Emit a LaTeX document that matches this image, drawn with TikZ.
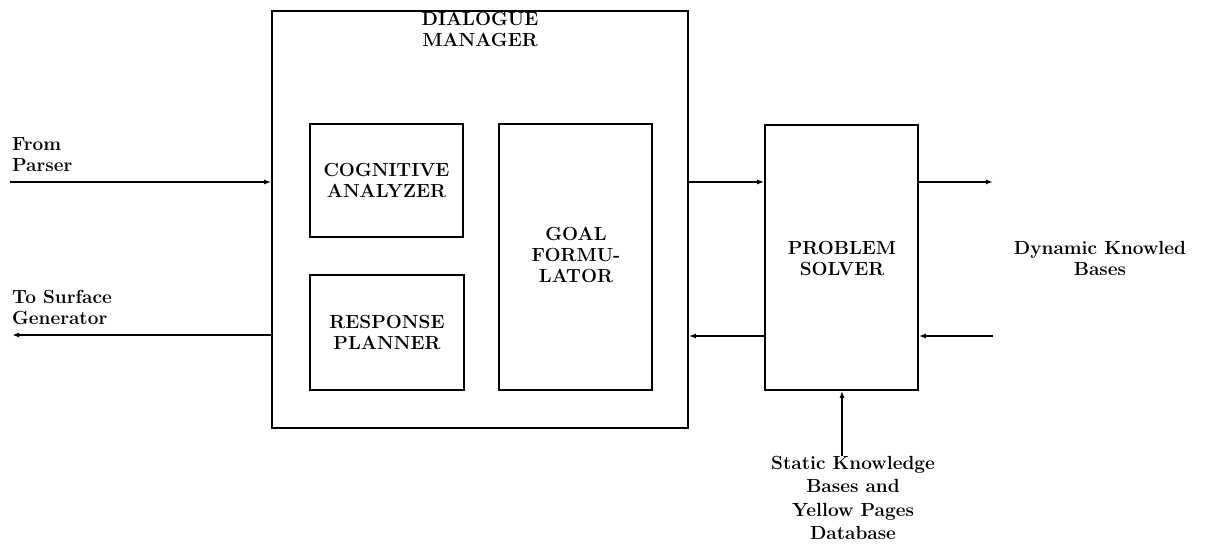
\documentclass[tikz,border=0pt]{standalone}
\usetikzlibrary{arrows.meta}
\begin{document}
\begin{tikzpicture}[x=1pt,y=-1pt,
  box/.style={draw,line width=1.8pt,inner sep=0pt},
  lbl/.style={font=\fontsize{19}{21}\selectfont\bfseries,align=center,inner sep=0pt},
  lbll/.style={font=\fontsize{19}{21}\selectfont\bfseries,align=left,inner sep=0pt,anchor=west},
  arr/.style={line width=1.4pt,-{Latex[length=7pt,width=5pt]}}]
\useasboundingbox (0,0) rectangle (1205,548);
% boxes
\node[box,minimum width=416pt,minimum height=417pt] (dm) at (480,219.5) {};
\node[lbl] (dmt) at (480,29) {DIALOGUE\\MANAGER};
\node[box,minimum width=153pt,minimum height=113pt] (ca) at (386.5,180.5) {};
\node[lbl] at (ca.center) {COGNITIVE\\ANALYZER};
\node[box,minimum width=154pt,minimum height=115pt] (rp) at (387,332.5) {};
\node[lbl] at (rp.center) {RESPONSE\\PLANNER};
\node[box,minimum width=153pt,minimum height=266pt] (gf) at (575.5,257) {};
\node[lbl] at (576,255) {GOAL\\FORMU-\\LATOR};
\node[box,minimum width=153pt,minimum height=265pt] (ps) at (841.5,257.5) {};
\node[lbl] at (842,258) {PROBLEM\\SOLVER};
% external labels
\node[lbll] (fpl) at (12,155) {From\\Parser};
\node[lbll] (tsl) at (12,307) {To Surface\\Generator};
\node[lbl] (dkl) at (1100,258) {Dynamic Knowled\\Bases};
\node[lbl,font=\fontsize{19}{23.5}\selectfont\bfseries] (skl) at (853,498) {Static Knowledge\\Bases and\\Yellow Pages\\Database};
% coordinates
\coordinate (fp) at (10,182);
\coordinate (ts) at (12,335);
\coordinate (dk1) at (993,182);
\coordinate (dk2) at (993,336);
\coordinate (sk) at (842,456);
% connectors
\draw[arr] (fp) -- (fp -| dm.west);
\draw[arr] (ts -| dm.west) -- (ts);
\draw[arr] (dm.east |- fp) -- (ps.west |- fp);
\draw[arr] (ps.west |- dk2) -- (dm.east |- dk2);
\draw[arr] (ps.east |- fp) -- (dk1);
\draw[arr] (dk2) -- (ps.east |- dk2);
\draw[arr] (sk) -- (sk |- ps.south);
\end{tikzpicture}
\end{document}
